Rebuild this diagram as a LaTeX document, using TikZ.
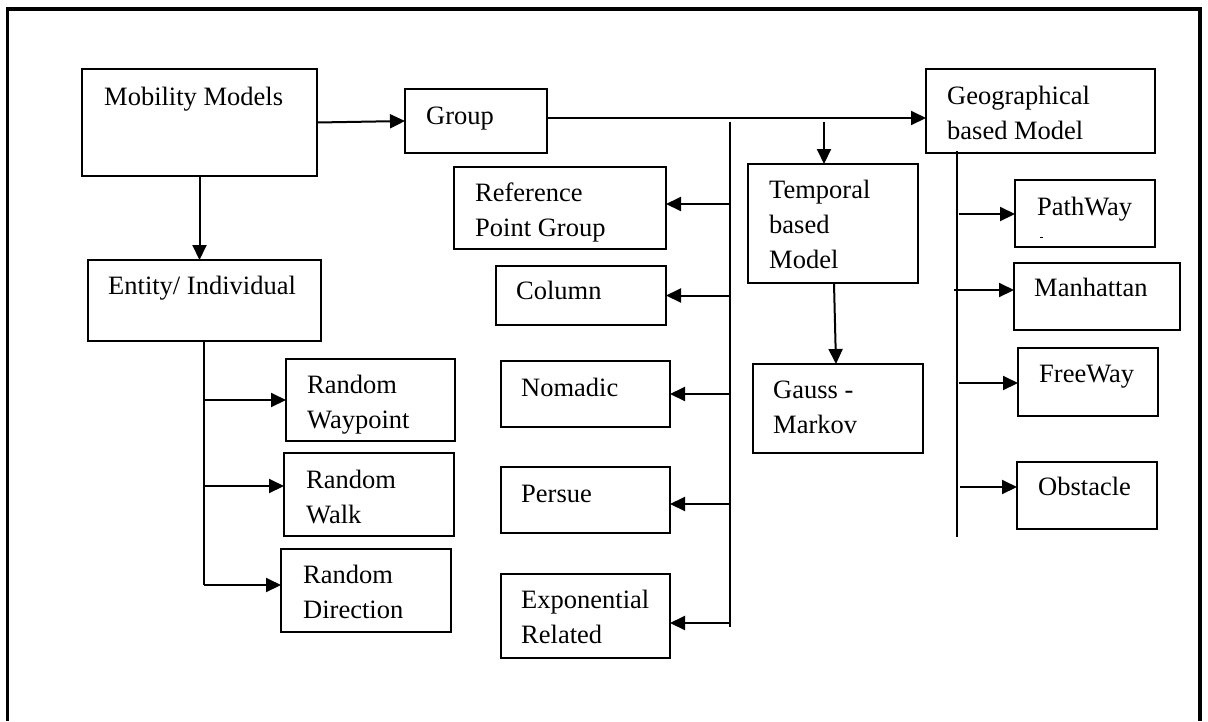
\documentclass[tikz,border=0pt]{standalone}
\usepackage{fontspec}
\setmainfont{Liberation Serif}
\usetikzlibrary{arrows.meta}
\begin{document}
\begin{tikzpicture}[x=1pt,y=-1pt,
  box/.style={draw, line width=2pt, inner sep=0pt, outer sep=0pt, anchor=north west},
  txt/.style={anchor=base west, inner sep=0pt, align=left, font=\fontsize{26.5}{35}\selectfont},
  conn/.style={line width=2pt},
  arr/.style={line width=2pt, -{Triangle[length=15pt,width=14pt]}}]
\useasboundingbox (0,0) rectangle (1208,721);
% outer frame (no bottom edge)
\draw[line width=3.5pt] (7.5,721) -- (7.5,9) -- (1200,9) -- (1200,721);

% boxes
\node[box, minimum width=235pt, minimum height=107pt] (mm) at (82,69) {};
\node[box, minimum width=142pt, minimum height=64pt] (grp) at (405,89) {};
\node[box, minimum width=229pt, minimum height=84pt] (geo) at (926,69) {};
\node[box, minimum width=212pt, minimum height=82pt] (rpg) at (454,167) {};
\node[box, minimum width=170pt, minimum height=59pt] (col) at (496,266) {};
\node[box, minimum width=169pt, minimum height=66pt] (nom) at (501,361) {};
\node[box, minimum width=169pt, minimum height=66pt] (per) at (501,467) {};
\node[box, minimum width=169pt, minimum height=84pt] (exp) at (501,574) {};
\node[box, minimum width=170pt, minimum height=119pt] (tmp) at (748,164) {};
\node[box, minimum width=170pt, minimum height=89pt] (gm) at (753,364) {};
\node[box, minimum width=140pt, minimum height=67pt] (pw) at (1015,180) {};
\node[box, minimum width=166pt, minimum height=67pt] (man) at (1014,263) {};
\node[box, minimum width=140pt, minimum height=68pt] (fw) at (1018,348) {};
\node[box, minimum width=140pt, minimum height=67pt] (obs) at (1017,462) {};
\node[box, minimum width=233pt, minimum height=81pt] (ent) at (88,260) {};
\node[box, minimum width=169pt, minimum height=82pt] (rwp) at (286,359) {};
\node[box, minimum width=170pt, minimum height=83pt] (rwk) at (284,453) {};
\node[box, minimum width=170pt, minimum height=83pt] (rdir) at (281,549) {};

% texts (anchor = baseline of the last line)
\node[txt] (tmm) at (104,105) {Mobility Models};
\node[txt] (tgrp) at (426,124) {Group};
\node[txt] (tgeo) at (947,139) {Geographical\\based Model};
\node[txt] (trpg) at (475,236) {Reference\\Point Group};
\node[txt] (tcol) at (516,299) {Column};
\node[txt] (tnom) at (521,396) {Nomadic};
\node[txt] (tper) at (521,502) {Persue};
\node[txt] (texp) at (521,643) {Exponential\\Related};
\node[txt] (ttmp) at (769,268) {Temporal\\based\\Model};
\node[txt] (tgm) at (773,433) {Gauss -\\Markov};
\node[txt] (tpw) at (1037,215) {PathWay};
\node[txt] (tman) at (1034,296) {Manhattan};
\node[txt] (tfw) at (1039,382) {FreeWay};
\node[txt] (tobs) at (1038,495) {Obstacle};
\node[txt] (tent) at (108,294) {Entity/ Individual};
\node[txt] (trwp) at (307,428) {Random\\Waypoint};
\node[txt] (trwk) at (306,523) {Random\\Walk};
\node[txt] (trdir) at (303,618) {Random\\Direction};
% small stray mark in PathWay box
\draw[line width=1pt] (1040,237) -- (1043,237);

% top-level connectors
\draw[arr] (mm.east) -- (grp.west);
\draw[arr] (mm.south) -- (mm.south |- ent.north);
\coordinate (g1) at (547,118);
\draw[arr] (g1) -- (g1 -| geo.west);

% group bus
\coordinate (busT) at (730,122);
\coordinate (busB) at (730,627);
\draw[conn] (busT) -- (busB);
\draw[arr] (busT |- 0,204) -- (rpg.east |- 0,204);
\draw[arr] (busT |- col.east) -- (col.east);
\draw[arr] (busT |- nom.east) -- (nom.east);
\draw[arr] (busT |- 0,504) -- (per.east |- 0,504);
\draw[arr] (busT |- 0,623) -- (exp.east |- 0,623);

% temporal
\coordinate (t1) at (824,122);
\draw[arr] (t1) -- (t1 |- tmp.north);
\draw[arr] ([xshift=1pt]tmp.south) -- ([xshift=3pt]tmp.south |- gm.north);

% geographical bus
\coordinate (geoT) at (957,151);
\coordinate (geoB) at (957,537);
\draw[conn] (geoT) -- (geoB);
\draw[arr] (959,214) -- (pw.west |- 0,214);
\draw[arr] (954,290) -- (man.west |- 0,290);
\draw[arr] (959,383) -- (fw.west |- 0,383);
\draw[arr] (960,487) -- (obs.west |- 0,487);

% entity bus
\coordinate (eB) at (204,585);
\draw[conn] (ent.south -| eB) -- (eB);
\draw[arr] (eB |- 0,400) -- (rwp.west |- 0,400);
\draw[arr] (eB |- 0,486) -- (rwk.west |- 0,486);
\draw[arr] (eB) -- (rdir.west |- eB);
\end{tikzpicture}
\end{document}
